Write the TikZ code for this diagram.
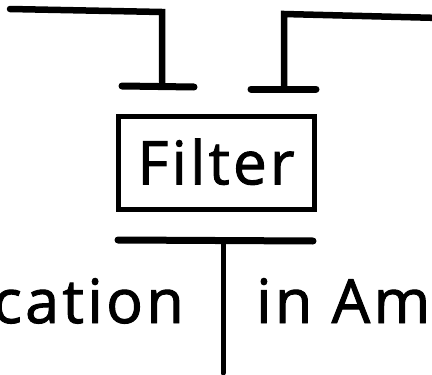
\documentclass[tikz,border=0pt]{standalone}
\usepackage{fontspec}
\setmainfont{Open Sans}[LetterSpace=5.5,FakeBold=1.6]
\begin{document}
\begin{tikzpicture}[x=1pt,y=-1pt,
  wire/.style={line width=6.5pt,line cap=round,line join=miter},
  bar/.style={line width=7pt,line cap=round},
  lbl/.style={inner sep=0pt,font=\fontsize{61}{72}\selectfont},
  filterbox/.style={draw,line width=5pt,minimum width=196pt,minimum height=93pt,inner sep=0pt,font=\fontsize{60}{70}\selectfont}]
\useasboundingbox (0,0) rectangle (432,375);
% left feed
\coordinate (la) at (10,9);
\coordinate (lb) at (162,12);
\coordinate (lc) at (162,86);
\coordinate (ll) at (122,86);
\coordinate (lr) at (194,87);
% right feed
\coordinate (ra) at (440,18);
\coordinate (rb) at (284,14);
\coordinate (rc) at (284,88);
\coordinate (rl) at (251,89);
\coordinate (rr) at (316,89);
% filter
\node[filterbox] (filter) at (216,162.5) {\raisebox{2pt}{Filter}};
% output bar and stem
\coordinate (bl) at (118,240);
\coordinate (br) at (313,241);
\coordinate (st) at (223,240);
\coordinate (sb) at (223,373);
\draw[wire] (la) -- (lb) -- (lc);
\draw[bar] (ll) -- (lr);
\draw[wire] (ra) -- (rb) -- (rc);
\draw[bar] (rl) -- (rr);
\draw[bar] (bl) -- (br);
\draw[wire,line width=5pt] (st) -- (sb);
\node[lbl,anchor=base east] (cat) at (184,323) {cation};
\node[lbl,anchor=base west] (inam) at (256,323) {in Am};
\end{tikzpicture}
\end{document}
